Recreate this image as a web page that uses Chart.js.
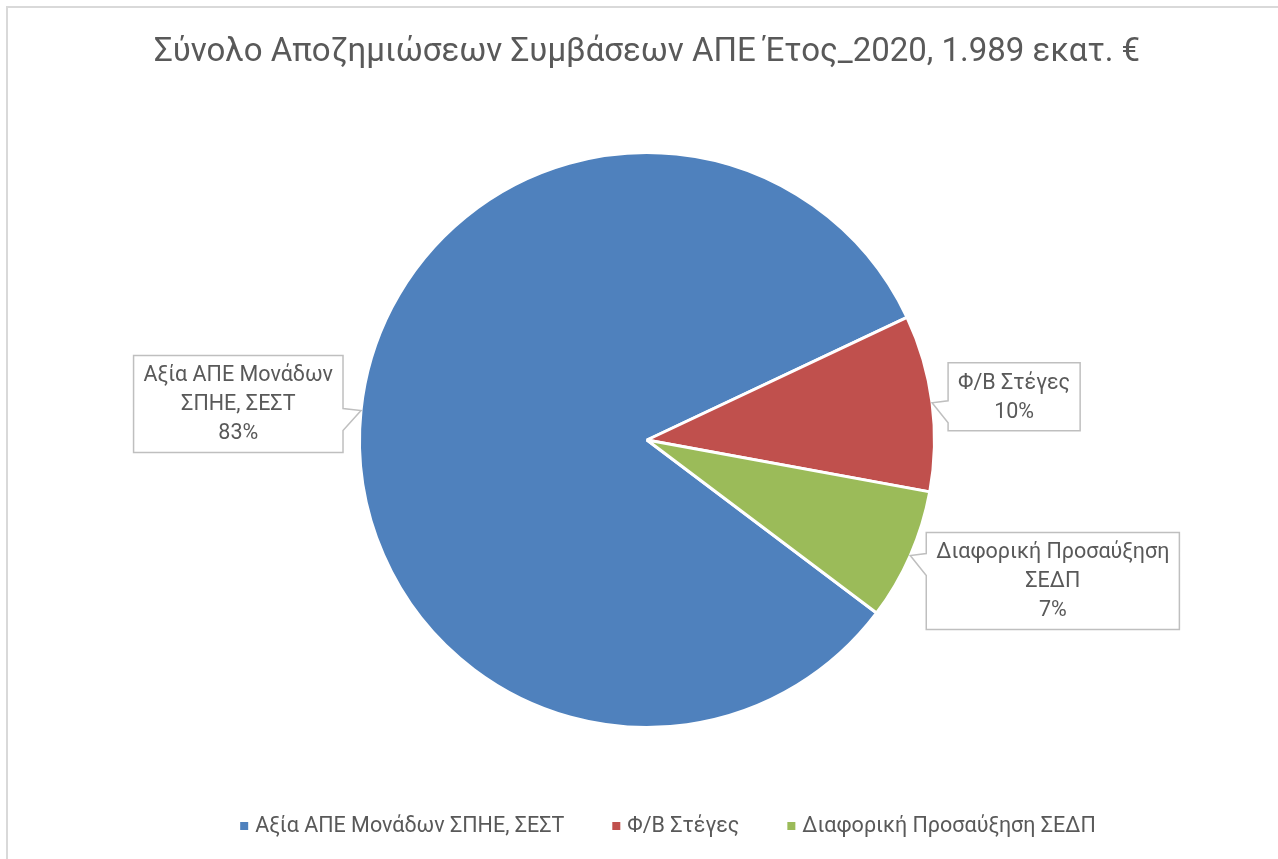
<!DOCTYPE html>
<html lang="el">
<head>
<meta charset="utf-8">
<title>Σύνολο Αποζημιώσεων Συμβάσεων ΑΠΕ Έτος_2020</title>
<script src="https://cdn.jsdelivr.net/npm/chart.js@4.4.1/dist/chart.umd.min.js"></script>
<style>
    html, body { margin: 0; padding: 0; background: #fff; }
    #wrap { width: 1278px; height: 859px; }
</style>
</head>
<body>
<div id="wrap"><canvas id="pieChart" width="1278" height="859"></canvas></div>
<script>
// Data (εκατ. €, σύνολο 1.989)
const categories = ['Αξία ΑΠΕ Μονάδων ΣΠΗΕ, ΣΕΣΤ', 'Φ/Β Στέγες', 'Διαφορική Προσαύξηση ΣΕΔΠ'];
const calloutLines = [['Αξία ΑΠΕ Μονάδων', 'ΣΠΗΕ, ΣΕΣΤ'], ['Φ/Β Στέγες'], ['Διαφορική Προσαύξηση', 'ΣΕΔΠ']];
const values = [1645, 197, 147];
const colors = ['#4F81BD', '#C0504D', '#9BBB59'];

const FONT = 'Roboto, "Noto Sans", sans-serif';
const TEXT_COLOR = '#595959';

// where each callout box sits relative to the tip on the slice edge
const calloutPlace = [
    { side: -1, gap: 18, dy: -55 },
    { side: 1, gap: 16, dy: -40 },
    { side: 1, gap: 16, dy: -23 }
];

const total = values.reduce((a, b) => a + b, 0);
const pct = v => Math.round(v / total * 100) + '%';

// Light frame around the chart
const framePlugin = {
    id: 'frame',
    beforeDraw(chart) {
        const ctx = chart.ctx;
        ctx.save();
        ctx.strokeStyle = '#D9D9D9';
        ctx.lineWidth = 2;
        ctx.beginPath();
        ctx.moveTo(7, chart.height);
        ctx.lineTo(7, 7);
        ctx.lineTo(chart.width, 7);
        ctx.stroke();
        ctx.restore();
    }
};

// Excel-like callout labels
const calloutPlugin = {
    id: 'callouts',
    afterDatasetsDraw(chart) {
        const ctx = chart.ctx;
        const meta = chart.getDatasetMeta(0);
        const lineH = 29, padX = 10, padY = 5;

        ctx.save();
        ctx.font = '21.5px ' + FONT;
        meta.data.forEach((arc, i) => {
            const p = arc.getProps(['x', 'y', 'startAngle', 'endAngle', 'outerRadius'], true);
            const mid = (p.startAngle + p.endAngle) / 2;
            const tipX = p.x + Math.cos(mid) * p.outerRadius;
            const tipY = p.y + Math.sin(mid) * p.outerRadius;

            const lines = calloutLines[i].concat(pct(values[i]));
            const w = Math.max(...lines.map(l => ctx.measureText(l).width)) + padX * 2;
            const h = lines.length * lineH + padY * 2;
            const place = calloutPlace[i];
            const left = place.side < 0 ? tipX - place.gap - w : tipX + place.gap;
            const top = tipY + place.dy;
            const right = left + w, bottom = top + h;
            const wTop = tipY - 2, wBot = tipY + 20;

            ctx.beginPath();
            ctx.moveTo(left, top);
            ctx.lineTo(right, top);
            if (place.side < 0) {
                ctx.lineTo(right, wTop);
                ctx.lineTo(tipX, tipY);
                ctx.lineTo(right, wBot);
            }
            ctx.lineTo(right, bottom);
            ctx.lineTo(left, bottom);
            if (place.side > 0) {
                ctx.lineTo(left, wBot);
                ctx.lineTo(tipX, tipY);
                ctx.lineTo(left, wTop);
            }
            ctx.closePath();
            ctx.fillStyle = '#FFFFFF';
            ctx.fill();
            ctx.strokeStyle = '#BFBFBF';
            ctx.lineWidth = 1.5;
            ctx.stroke();

            ctx.fillStyle = TEXT_COLOR;
            ctx.textAlign = 'center';
            ctx.textBaseline = 'middle';
            lines.forEach((l, k) => {
                ctx.fillText(l, left + w / 2, top + padY + lineH / 2 + 1 + k * lineH);
            });
        });
        ctx.restore();
    }
};

// Legend drawn at the bottom, small square markers
const legendPlugin = {
    id: 'bottomLegend',
    afterDraw(chart) {
        const ctx = chart.ctx;
        const box = 8, textGap = 7, itemGap = 48, y = 826;
        ctx.save();
        ctx.font = '21.5px ' + FONT;
        const widths = categories.map(c => box + textGap + ctx.measureText(c).width);
        const full = widths.reduce((a, b) => a + b, 0) + itemGap * (categories.length - 1);
        let x = 668 - full / 2;
        ctx.textBaseline = 'middle';
        ctx.textAlign = 'left';
        categories.forEach((c, i) => {
            ctx.fillStyle = colors[i];
            ctx.fillRect(x, y - box / 2, box, box);
            ctx.fillStyle = TEXT_COLOR;
            ctx.fillText(c, x + box + textGap, y + 1);
            x += widths[i] + itemGap;
        });
        ctx.restore();
    }
};

const config = {
    type: 'pie',
    data: {
        labels: categories,
        datasets: [{
            data: values,
            backgroundColor: colors,
            borderColor: '#FFFFFF',
            borderWidth: 3
        }]
    },
    options: {
        responsive: false,
        animation: false,
        rotation: 127,
        layout: {
            padding: { left: 16, right: 0, top: 0, bottom: 130 }
        },
        plugins: {
            title: {
                display: true,
                text: 'Σύνολο Αποζημιώσεων Συμβάσεων ΑΠΕ Έτος_2020, 1.989 εκατ. €',
                color: TEXT_COLOR,
                font: { family: FONT, size: 33, weight: 'normal', lineHeight: 1.2 },
                padding: { top: 33, bottom: 78.4 }
            },
            legend: { display: false },
            tooltip: { enabled: false }
        }
    },
    plugins: [framePlugin, calloutPlugin, legendPlugin]
};

window.onload = function () {
    const ctx = document.getElementById('pieChart').getContext('2d');
    new Chart(ctx, config);
};
</script>
</body>
</html>
